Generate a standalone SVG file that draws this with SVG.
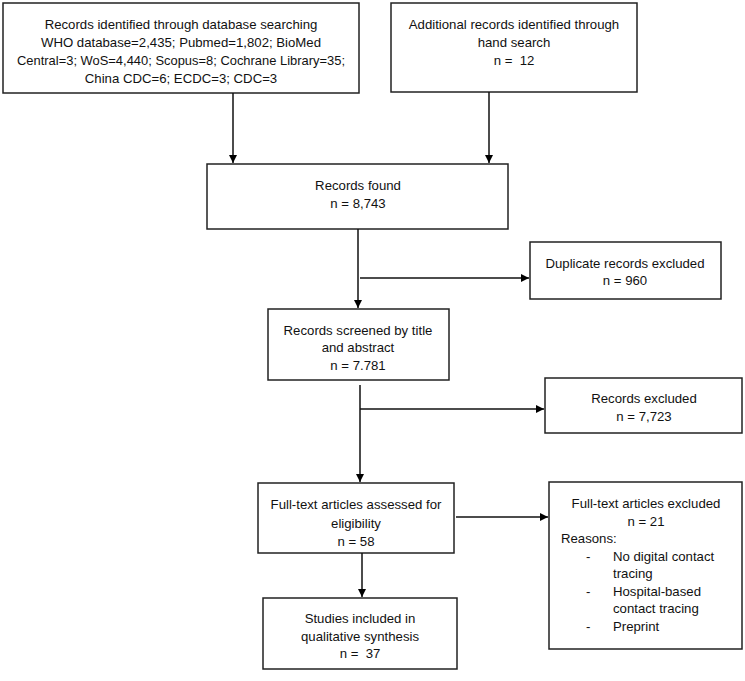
<svg xmlns="http://www.w3.org/2000/svg" width="745" height="681" viewBox="0 0 745 681">
<defs>
<marker id="ah" viewBox="0 0 10 10" refX="10" refY="5" markerWidth="8" markerHeight="8" markerUnits="userSpaceOnUse" orient="auto">
<path d="M0,0 L10,5 L0,10 Z" fill="#000"/>
</marker>
<style>
rect{fill:#fff;stroke:#222;stroke-width:1.5}
text{font-family:"Liberation Sans",Arial,sans-serif;font-size:13.2px;fill:#111}
.c{text-anchor:middle}
.p{white-space:pre}
.e path{fill:none;stroke:#111;stroke-width:1.5}
</style>
</defs>
<rect x="0" y="0" width="745" height="681" style="fill:#fff;stroke:none"/>
<g id="db">
<rect x="3" y="3" width="356" height="90"/>
<text class="c" x="181" y="29">Records identified through database searching</text>
<text class="c" x="181" y="47">WHO database=2,435; Pubmed=1,802; BioMed</text>
<text class="c" x="181" y="65" textLength="328" lengthAdjust="spacingAndGlyphs">Central=3; WoS=4,440; Scopus=8; Cochrane Library=35;</text>
<text class="c" x="181" y="83">China CDC=6; ECDC=3; CDC=3</text>
</g>
<g id="hand">
<rect x="391" y="3" width="246" height="89"/>
<text class="c" x="514" y="29">Additional records identified through</text>
<text class="c" x="514" y="47">hand search</text>
<text class="c p" x="514" y="65" xml:space="preserve">n =  12</text>
</g>
<g id="found">
<rect x="207" y="164" width="301" height="65"/>
<text class="c" x="358" y="190">Records found</text>
<text class="c" x="358" y="208">n = 8,743</text>
</g>
<g id="dup">
<rect x="530" y="242" width="191" height="57"/>
<text class="c" x="625" y="268">Duplicate records excluded</text>
<text class="c" x="625" y="285">n = 960</text>
</g>
<g id="screened">
<rect x="268" y="309" width="181" height="71"/>
<text class="c" x="358" y="335">Records screened by title</text>
<text class="c" x="358" y="352">and abstract</text>
<text class="c" x="358" y="370">n = 7.781</text>
</g>
<g id="recexcl">
<rect x="545" y="378" width="197" height="55"/>
<text class="c" x="644" y="403">Records excluded</text>
<text class="c" x="644" y="421">n = 7,723</text>
</g>
<g id="fulltext">
<rect x="258" y="483" width="196" height="70"/>
<text class="c" x="356" y="509">Full-text articles assessed for</text>
<text class="c" x="356" y="528">eligibility</text>
<text class="c" x="356" y="546">n = 58</text>
</g>
<g id="ftexcl">
<rect x="549" y="482" width="193" height="167"/>
<text class="c" x="646" y="508">Full-text articles excluded</text>
<text class="c" x="646" y="526">n = 21</text>
<text x="561" y="543">Reasons:</text>
<text x="586" y="561">-</text>
<text x="613" y="561">No digital contact</text>
<text x="613" y="578">tracing</text>
<text x="586" y="596">-</text>
<text x="613" y="596">Hospital-based</text>
<text x="613" y="613">contact tracing</text>
<text x="586" y="631">-</text>
<text x="613" y="631">Preprint</text>
</g>
<g id="included">
<rect x="263" y="598" width="194" height="71"/>
<text class="c" x="360" y="623">Studies included in</text>
<text class="c" x="360" y="641">qualitative synthesis</text>
<text class="c p" x="360" y="658" xml:space="preserve">n =  37</text>
</g>
<g class="e" id="connectors">
<path d="M233,93 V163" marker-end="url(#ah)"/>
<path d="M489,92 V163" marker-end="url(#ah)"/>
<path d="M358,229 V308" marker-end="url(#ah)"/>
<path d="M360,278 H529" marker-end="url(#ah)"/>
<path d="M360,385 V482" marker-end="url(#ah)"/>
<path d="M360,409 H544" marker-end="url(#ah)"/>
<path d="M456,517 H548" marker-end="url(#ah)"/>
<path d="M362,553 V597" marker-end="url(#ah)"/>
</g>
</svg>
